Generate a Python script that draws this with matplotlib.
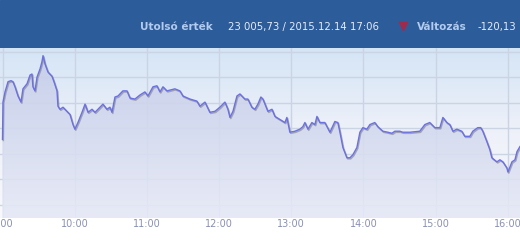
import matplotlib
matplotlib.use("Agg")
import matplotlib.pyplot as plt
import matplotlib.transforms as mtransforms
from matplotlib.colors import LinearSegmentedColormap
import numpy as np

# intraday index values, minutes after 09:00
minutes = [0, 0.4, 2.1, 4.6, 7.1, 8.7, 10.4, 12.9, 15.4, 17.0, 20.4, 22.9, 24.5, 25.3,
           27.0, 28.7, 31.2, 32.8, 33.7, 35.3, 37.8, 41.1, 42.8, 45.3, 46.1, 47.8,
           50.3, 53.6, 56.1, 58.6, 60.2, 62.7, 66.1, 68.6, 71.1, 74.4, 76.9, 79.4,
           83.5, 86.8, 89.3, 91.0, 93.5, 96.0, 100.1, 103.5, 106.0, 110.1, 114.3,
           118.4, 120.9, 125.1, 128.4, 130.9, 133.4, 136.7, 143.3, 147.5, 150.0,
           155.8, 161.6, 164.1, 168.3, 172.4, 176.6, 180.7, 184.9, 187.4, 189.1,
           191.6, 194.9, 197.4, 201.5, 204.0, 207.3, 209.8, 212.3, 214.8, 216.5,
           220.6, 224.0, 226.5, 230.6, 234.8, 236.4, 238.9, 243.1, 247.2, 249.7,
           251.4, 253.9, 257.2, 259.7, 261.4, 263.8, 268.0, 272.2, 276.3, 278.8,
           280.5, 283.0, 286.3, 288.8, 291.3, 294.6, 297.1, 299.6, 302.9, 305.4,
           309.5, 312.0, 316.2, 320.4, 323.7, 326.2, 330.3, 332.8, 338.6, 346.9,
           351.1, 355.2, 359.4, 363.6, 366.1, 369.4, 371.9, 374.4, 377.7, 381.8,
           384.3, 388.5, 391.0, 395.1, 397.6, 399.3, 402.6, 405.1, 406.8, 411.0,
           413.5, 416.0, 417.7, 419.3, 420.2, 423.5, 426.0, 427.7, 430.2]
values = [23028, 23101, 23121, 23141, 23143, 23141, 23131, 23113, 23101, 23127, 23137,
          23154, 23156, 23131, 23123, 23150, 23166, 23180, 23192, 23176, 23160, 23152,
          23141, 23123, 23093, 23087, 23091, 23083, 23077, 23057, 23048, 23061, 23081,
          23097, 23081, 23087, 23081, 23087, 23097, 23087, 23091, 23081, 23111, 23113,
          23123, 23123, 23109, 23107, 23115, 23121, 23113, 23131, 23133, 23121, 23131,
          23123, 23127, 23123, 23113, 23107, 23103, 23093, 23101, 23081, 23083, 23091,
          23101, 23087, 23071, 23083, 23113, 23117, 23107, 23107, 23091, 23087, 23097,
          23111, 23107, 23083, 23087, 23073, 23067, 23061, 23071, 23042, 23044, 23048,
          23053, 23061, 23048, 23061, 23057, 23073, 23061, 23061, 23042, 23063, 23061,
          23042, 23012, 22992, 22992, 22998, 23012, 23042, 23051, 23048, 23057, 23061,
          23053, 23044, 23042, 23040, 23044, 23044, 23042, 23042, 23044, 23057, 23061,
          23051, 23051, 23071, 23061, 23057, 23044, 23048, 23044, 23034, 23034, 23044,
          23051, 23051, 23044, 23024, 23008, 22992, 22984, 22988, 22984, 22978, 22972,
          22964, 22984, 22988, 23004, 23014]

tick_hours = [9, 10, 11, 12, 13, 14, 15, 16]
tick_labels = ["9:00", "10:00", "11:00", "12:00", "13:00", "14:00", "15:00", "16:00"]
y_grid = [22900, 22950, 23000, 23050, 23100, 23150, 23200]

W, H = 520, 245
fig = plt.figure(figsize=(W / 100, H / 100), dpi=100)
fig.patch.set_facecolor("white")

# header band
head = fig.add_axes([0, 1 - 48 / H, 1, 48 / H])
head.set_xlim(0, W)
head.set_ylim(0, 48)
head.axis("off")
head.add_patch(plt.Rectangle((0, 0), W, 48, color="#2d5c9a"))
hy = 21
head.text(140, hy, "Utolsó érték", color="#b2cbee", fontsize=7.5, fontweight="bold", va="center")
head.text(228, hy, "23 005,73 / 2015.12.14 17:06", color="#e4ecf7", fontsize=7.3, va="center")
head.plot([403], [hy + 1], marker="v", color="#a02a4c", markersize=6, linestyle="none")
head.text(417, hy, "Változás", color="#b2cbee", fontsize=7.5, fontweight="bold", va="center")
head.text(478, hy, "-120,13", color="#e4ecf7", fontsize=7.3, va="center")

# chart area
ax = fig.add_axes([0, 1 - 218 / H, 1, (218 - 48) / H])
x = 9 + np.array(minutes) / 60.0
y = np.array(values)
x0 = 9 - 2.08 / 60
x1 = 9 + 430.2 / 60
ylo, yhi = 22874, 23207
ax.set_xlim(x0, x1)
ax.set_ylim(ylo, yhi)

bg = LinearSegmentedColormap.from_list("bg", ["#f8f9fd", "#eef1f9", "#d5e5f6"])
grad = np.linspace(0, 1, 256).reshape(-1, 1)
ax.imshow(grad, cmap=bg, origin="lower", aspect="auto",
          extent=[x0, x1, ylo, yhi], zorder=0)

for g in y_grid:
    ax.axhline(g, color="#cad4e3", lw=1.0, zorder=1)
for h in tick_hours:
    ax.axvline(h, color="#cad4e3", lw=1.0, zorder=1)

# gradient fill under the line
fillcm = LinearSegmentedColormap.from_list("fill", ["#e6e9f6", "#c4cde9"])
poly = ax.fill_between(x, y, ylo, color="none", lw=0, zorder=2)
im = ax.imshow(grad, cmap=fillcm, origin="lower", aspect="auto", alpha=0.9,
               extent=[x0, x1, ylo, 23200], zorder=2)
im.set_clip_path(poly.get_paths()[0], transform=ax.transData)

shadow = mtransforms.offset_copy(ax.transData, fig=fig, x=0.6, y=-0.8, units="points")
ax.plot(x, y, color="#8c8c96", lw=1.1, alpha=0.7, transform=shadow, zorder=3)
ax.plot(x, y, color="#6b70e2", lw=1.0, zorder=4)

ax.set_xticks([])
ax.set_yticks([])
for s in ax.spines.values():
    s.set_visible(False)

# time labels
lab = fig.add_axes([0, 0, 1, (245 - 218) / H])
lab.set_xlim(x0, x1)
lab.set_ylim(0, 27)
lab.axis("off")
for h, t in zip(tick_hours, tick_labels):
    lab.text(h, 21, t, color="#8a90b2", fontsize=7, ha="center", va="center")

fig.savefig("out.png", dpi=100)
